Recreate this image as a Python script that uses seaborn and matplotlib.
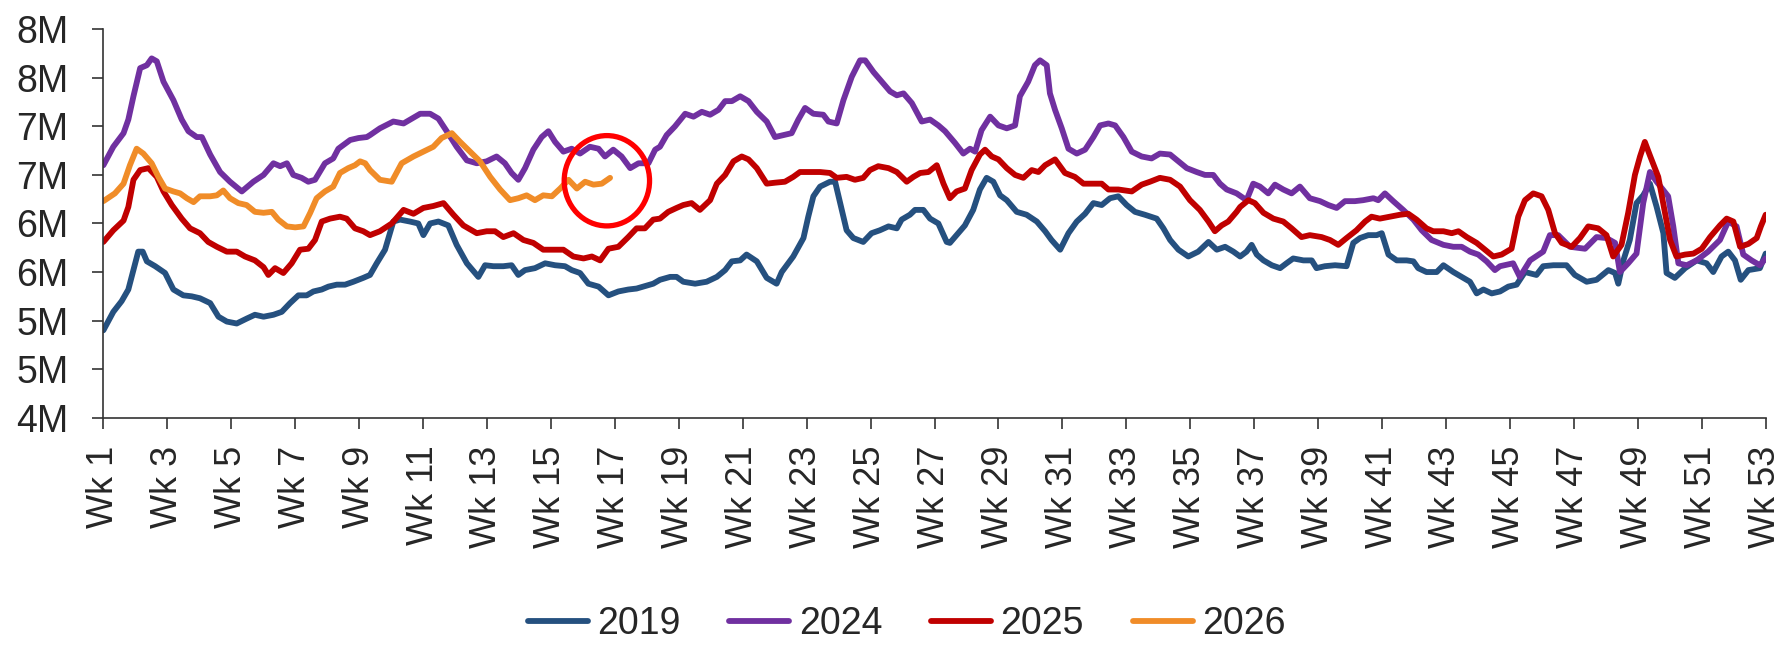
import numpy as np
import pandas as pd
import seaborn as sns
import matplotlib.pyplot as plt
from matplotlib.patches import Ellipse
from matplotlib.ticker import FuncFormatter, MultipleLocator

# weekly position (Wk 1..53) and value in millions
weeks_2019 = [1.0, 1.31, 1.57, 1.78, 1.94, 2.09, 2.23, 2.36, 2.62, 2.93, 3.19, 3.50, 3.76, 4.02, 4.34, 4.60, 4.86, 5.17, 5.48, 5.74,
              6.01, 6.32, 6.58, 6.84, 7.10, 7.36, 7.57, 7.83, 8.04, 8.30, 8.56, 8.82, 9.13,
              9.34, 9.55, 9.81, 10.07, 10.28, 10.59, 10.85, 11.01, 11.22, 11.48, 11.79, 12.05, 12.37, 12.73, 12.94, 13.20, 13.51, 13.77, 13.98, 14.19,
              14.50, 14.82, 15.13, 15.44, 15.65, 15.91, 16.17, 16.49, 16.80, 17.11, 17.42, 17.68, 17.89, 18.20,
              18.41, 18.73, 18.93, 19.14, 19.51, 19.87, 20.19, 20.45, 20.66, 20.92, 21.12, 21.44, 21.75, 22.06, 22.22, 22.58, 22.90, 23.05, 23.21, 23.42,
              23.73, 23.89, 24.10, 24.25, 24.46, 24.77, 25.03, 25.29, 25.56, 25.82, 25.97, 26.23, 26.39, 26.65, 26.86, 27.12, 27.38,
              27.48, 27.69, 27.95, 28.21, 28.42, 28.63, 28.84, 29.05, 29.26, 29.57, 29.88, 30.20, 30.46, 30.66, 30.93, 31.19, 31.45, 31.71, 31.97, 32.23,
              32.49, 32.75, 33.01, 33.27, 33.58, 33.95, 34.16, 34.37, 34.63, 34.94, 35.25, 35.57, 35.83, 36.09, 36.35,
              36.56, 36.76, 36.92, 37.08, 37.29, 37.55, 37.81, 38.01, 38.22, 38.54, 38.80, 38.95, 39.21, 39.53, 39.89, 40.10, 40.31, 40.57, 40.83, 40.99,
              41.20, 41.46, 41.77, 41.98, 42.13, 42.39, 42.71, 42.92, 43.23, 43.49, 43.75, 43.96, 44.17, 44.43, 44.69,
              44.95, 45.21, 45.47, 45.83, 46.04, 46.36, 46.77, 47.03, 47.40, 47.71, 48.08, 48.29, 48.39, 48.55, 48.75, 48.96, 49.17, 49.38, 49.59, 49.80,
              49.90, 50.16, 50.48, 50.84, 51.15, 51.36, 51.62, 51.83, 52.04, 52.22, 52.46, 52.82, 53.0]
vals_2019 = [4.90, 5.09, 5.20, 5.32, 5.52, 5.71, 5.71, 5.61, 5.56, 5.49, 5.32, 5.26, 5.25, 5.23, 5.18, 5.04, 4.99, 4.97, 5.02, 5.06,
             5.04, 5.06, 5.09, 5.18, 5.26, 5.26, 5.30, 5.32, 5.35, 5.37, 5.37, 5.40, 5.44,
             5.47, 5.59, 5.73, 6.02, 6.04, 6.02, 6.00, 5.88, 6.00, 6.02, 5.98, 5.78, 5.59, 5.45, 5.57, 5.56, 5.56, 5.57, 5.47, 5.52,
             5.54, 5.59, 5.57, 5.56, 5.52, 5.49, 5.38, 5.35, 5.26, 5.30, 5.32, 5.33, 5.35, 5.38,
             5.42, 5.45, 5.45, 5.40, 5.38, 5.40, 5.45, 5.52, 5.61, 5.62, 5.68, 5.61, 5.44, 5.38, 5.50, 5.66, 5.85, 6.07, 6.28, 6.38,
             6.43, 6.43, 6.14, 5.93, 5.85, 5.81, 5.90, 5.93, 5.97, 5.95, 6.04, 6.09, 6.14, 6.14, 6.05, 6.00, 5.81,
             5.80, 5.88, 5.98, 6.14, 6.35, 6.47, 6.43, 6.29, 6.24, 6.12, 6.09, 6.02, 5.92, 5.83, 5.73, 5.90, 6.02, 6.10, 6.21, 6.19,
             6.26, 6.28, 6.19, 6.12, 6.09, 6.05, 5.95, 5.83, 5.73, 5.66, 5.71, 5.81, 5.73, 5.76, 5.71,
             5.66, 5.71, 5.78, 5.68, 5.62, 5.57, 5.54, 5.59, 5.64, 5.62, 5.62, 5.54, 5.56, 5.57, 5.56, 5.80, 5.85, 5.88, 5.88, 5.90,
             5.68, 5.62, 5.62, 5.61, 5.54, 5.50, 5.50, 5.57, 5.50, 5.45, 5.40, 5.28, 5.32, 5.28, 5.30,
             5.35, 5.37, 5.50, 5.47, 5.56, 5.57, 5.57, 5.47, 5.40, 5.42, 5.52, 5.49, 5.38, 5.62, 5.83, 6.21, 6.29, 6.41, 6.17, 5.90,
             5.49, 5.44, 5.54, 5.62, 5.59, 5.50, 5.66, 5.71, 5.62, 5.42, 5.52, 5.54, 5.69]

weeks_2024 = [1.0, 1.31, 1.63, 1.78, 1.94, 2.15, 2.36, 2.51, 2.67, 2.88, 3.19, 3.45, 3.66, 3.92, 4.08, 4.34, 4.65, 4.96, 5.33, 5.69,
              6.01, 6.32, 6.53, 6.74, 6.94, 7.20, 7.41, 7.62, 7.93, 8.19, 8.35, 8.72, 8.98, 9.24,
              9.34, 9.65, 10.07, 10.39, 10.65, 10.91, 11.22, 11.48, 11.74, 12.05, 12.37, 12.68, 12.99, 13.30, 13.56, 13.77, 13.98, 14.19, 14.45, 14.71,
              14.92, 15.13, 15.39, 15.65, 15.91, 16.22, 16.49, 16.69, 16.95, 17.21, 17.48, 17.74, 18.05, 18.26,
              18.41, 18.62, 18.88, 19.20, 19.46, 19.72, 19.98, 20.24, 20.45, 20.66, 20.92, 21.18, 21.44, 21.75, 22.01, 22.27, 22.53, 22.74, 22.95, 23.21,
              23.52, 23.68, 23.94, 24.15, 24.41, 24.67, 24.83, 25.09, 25.35, 25.61, 25.82, 26.03, 26.29, 26.60, 26.86, 27.12, 27.33,
              27.64, 27.90, 28.11, 28.27, 28.47, 28.74, 29.00, 29.26, 29.52, 29.67, 29.93, 30.14, 30.30, 30.51, 30.61, 30.77, 30.98, 31.19, 31.45, 31.71,
              31.97, 32.18, 32.44, 32.65, 32.91, 33.17, 33.48, 33.79, 34.05, 34.37, 34.63, 34.89, 35.20, 35.46, 35.72, 35.93, 36.14, 36.45,
              36.76, 36.97, 37.18, 37.44, 37.65, 37.91, 38.17, 38.43, 38.74, 39.06, 39.32, 39.58, 39.84, 40.15, 40.41, 40.73, 40.88, 41.09, 41.35, 41.66,
              41.98, 42.24, 42.55, 42.92, 43.23, 43.49, 43.75, 44.01, 44.27, 44.53,
              44.69, 45.10, 45.31, 45.63, 46.04, 46.25, 46.51, 46.88, 47.35, 47.71, 48.02, 48.29, 48.44, 48.70, 48.96, 49.17, 49.38, 49.59, 49.95, 50.11,
              50.27, 50.53, 50.84, 51.20, 51.57, 51.83, 52.09, 52.30, 52.56, 52.82, 53.0]
vals_2024 = [6.60, 6.79, 6.93, 7.07, 7.31, 7.60, 7.63, 7.70, 7.67, 7.46, 7.27, 7.07, 6.95, 6.89, 6.89, 6.71, 6.53, 6.43, 6.33, 6.43,
             6.50, 6.62, 6.59, 6.62, 6.50, 6.47, 6.43, 6.45, 6.62, 6.67, 6.77, 6.86, 6.88, 6.89,
             6.91, 6.98, 7.05, 7.03, 7.08, 7.13, 7.13, 7.08, 6.95, 6.79, 6.65, 6.62, 6.64, 6.69, 6.62, 6.52, 6.45, 6.57, 6.76, 6.89,
             6.95, 6.84, 6.74, 6.77, 6.72, 6.79, 6.77, 6.69, 6.76, 6.69, 6.57, 6.62, 6.62, 6.76,
             6.79, 6.91, 7.00, 7.13, 7.10, 7.15, 7.12, 7.17, 7.26, 7.26, 7.31, 7.26, 7.15, 7.05, 6.89, 6.91, 6.93, 7.07, 7.19, 7.13,
             7.12, 7.05, 7.03, 7.27, 7.51, 7.68, 7.68, 7.56, 7.46, 7.36, 7.32, 7.34, 7.24, 7.05, 7.07, 7.01, 6.95,
             6.83, 6.72, 6.77, 6.74, 6.96, 7.10, 7.01, 6.98, 7.01, 7.31, 7.46, 7.63, 7.68, 7.63, 7.34, 7.17, 6.98, 6.77, 6.72, 6.76,
             6.89, 7.01, 7.03, 7.01, 6.89, 6.74, 6.69, 6.67, 6.72, 6.71, 6.64, 6.57, 6.53, 6.50, 6.50, 6.41, 6.35, 6.31,
             6.24, 6.41, 6.38, 6.31, 6.40, 6.35, 6.31, 6.38, 6.26, 6.23, 6.19, 6.16, 6.23, 6.23, 6.24, 6.26, 6.24, 6.31, 6.23, 6.14,
             6.04, 5.93, 5.83, 5.78, 5.76, 5.76, 5.71, 5.68, 5.61, 5.52,
             5.56, 5.59, 5.45, 5.62, 5.71, 5.88, 5.88, 5.76, 5.74, 5.86, 5.85, 5.80, 5.50, 5.59, 5.69, 6.21, 6.53, 6.43, 6.28, 5.97,
             5.59, 5.57, 5.62, 5.71, 5.83, 6.02, 5.97, 5.68, 5.62, 5.57, 5.64]

weeks_2025 = [1.0, 1.31, 1.63, 1.78, 1.94, 2.15, 2.41, 2.67, 2.88, 3.14, 3.45, 3.71, 4.02, 4.28, 4.55, 4.86, 5.17, 5.43, 5.74, 6.01,
              6.16, 6.37, 6.63, 6.89, 7.15, 7.41, 7.62, 7.83, 8.09, 8.40, 8.61, 8.87, 9.13,
              9.34, 9.65, 10.02, 10.39, 10.70, 11.01, 11.32, 11.64, 11.95, 12.26, 12.68, 12.99, 13.25, 13.51, 13.83, 14.14, 14.45, 14.76, 15.08, 15.39,
              15.70, 16.02, 16.28, 16.54, 16.80, 17.11, 17.42, 17.68, 17.94, 18.20,
              18.41, 18.67, 18.93, 19.14, 19.40, 19.66, 19.98, 20.19, 20.45, 20.71, 20.97, 21.18, 21.44, 21.75, 22.01, 22.32, 22.58, 22.79, 23.11, 23.42,
              23.73, 23.94, 24.25, 24.51, 24.77, 24.98, 25.24, 25.56, 25.82, 26.13, 26.34, 26.55, 26.81, 27.07, 27.28,
              27.48, 27.69, 27.95, 28.16, 28.42, 28.58, 28.79, 29.00, 29.26, 29.52, 29.78, 30.04, 30.25, 30.46, 30.77, 31.08, 31.39, 31.66, 31.97, 32.23,
              32.44, 32.75, 33.17, 33.48, 33.74, 34.05, 34.37, 34.68, 34.99, 35.30, 35.57, 35.77, 35.98, 36.19, 36.45,
              36.56, 36.82, 37.02, 37.29, 37.60, 37.91, 38.17, 38.48, 38.74, 39.11, 39.37, 39.63, 39.89, 40.20, 40.47, 40.67, 40.93, 41.25, 41.56, 41.82,
              42.08, 42.39, 42.60, 42.92, 43.18, 43.39, 43.65, 43.96, 44.22, 44.48, 44.74,
              45.05, 45.26, 45.47, 45.73, 45.99, 46.20, 46.41, 46.62, 46.93, 47.19, 47.45, 47.76, 48.02, 48.23, 48.49, 48.70, 48.91, 49.07, 49.22, 49.38,
              49.64, 49.85, 50.01, 50.21, 50.48, 50.74, 51.00, 51.26, 51.57, 51.78, 51.99, 52.20, 52.46, 52.72, 52.85, 53.0]
vals_2025 = [5.81, 5.93, 6.03, 6.17, 6.45, 6.55, 6.57, 6.48, 6.33, 6.19, 6.05, 5.95, 5.90, 5.81, 5.76, 5.71, 5.71, 5.66, 5.62, 5.55,
             5.47, 5.54, 5.49, 5.59, 5.73, 5.74, 5.83, 6.02, 6.05, 6.07, 6.05, 5.95, 5.92,
             5.88, 5.92, 6.00, 6.14, 6.10, 6.16, 6.18, 6.21, 6.09, 5.98, 5.90, 5.92, 5.92, 5.86, 5.90, 5.83, 5.80, 5.73, 5.73, 5.73,
             5.66, 5.64, 5.66, 5.62, 5.74, 5.76, 5.86, 5.95, 5.95, 6.04,
             6.05, 6.12, 6.16, 6.19, 6.21, 6.14, 6.24, 6.41, 6.50, 6.64, 6.69, 6.66, 6.57, 6.41, 6.42, 6.43, 6.48, 6.53, 6.53, 6.53,
             6.52, 6.47, 6.48, 6.45, 6.47, 6.55, 6.59, 6.57, 6.53, 6.43, 6.48, 6.52, 6.53, 6.60, 6.41,
             6.26, 6.33, 6.36, 6.55, 6.71, 6.76, 6.69, 6.66, 6.57, 6.50, 6.47, 6.55, 6.53, 6.60, 6.66, 6.52, 6.48, 6.41, 6.41, 6.41,
             6.35, 6.35, 6.33, 6.40, 6.43, 6.47, 6.45, 6.38, 6.24, 6.14, 6.02, 5.92, 5.98, 6.02, 6.12,
             6.17, 6.24, 6.21, 6.11, 6.05, 6.02, 5.95, 5.86, 5.88, 5.86, 5.83, 5.78, 5.85, 5.93, 6.02, 6.07, 6.05, 6.07, 6.09, 6.10,
             6.04, 5.95, 5.92, 5.92, 5.90, 5.92, 5.86, 5.80, 5.73, 5.66, 5.68,
             5.74, 6.07, 6.24, 6.31, 6.28, 6.14, 5.90, 5.80, 5.76, 5.85, 5.97, 5.95, 5.88, 5.66, 5.78, 6.11, 6.50, 6.69, 6.84, 6.70,
             6.48, 6.11, 5.83, 5.66, 5.68, 5.69, 5.74, 5.86, 5.98, 6.05, 6.02, 5.76, 5.79, 5.85, 5.97, 6.09]

weeks_2026 = [1.0, 1.36, 1.63, 1.83, 2.04, 2.25, 2.51, 2.72, 2.93, 3.19, 3.40, 3.61, 3.82, 4.02, 4.34, 4.55, 4.75, 4.96, 5.22, 5.48,
              5.74, 6.01, 6.27, 6.47, 6.74, 7.00, 7.26, 7.47, 7.67, 7.93, 8.19, 8.40, 8.66, 8.87, 9.03, 9.19,
              9.34, 9.65, 10.02, 10.33, 10.70, 11.01, 11.32, 11.58, 11.90, 12.16, 12.47, 12.78, 13.10, 13.41, 13.72, 13.98, 14.24, 14.50, 14.76, 15.03,
              15.29, 15.55, 15.81, 16.07, 16.33, 16.59, 16.85]
vals_2026 = [6.23, 6.31, 6.41, 6.60, 6.77, 6.72, 6.62, 6.48, 6.36, 6.33, 6.31, 6.26, 6.22, 6.28, 6.28, 6.29, 6.34, 6.26, 6.21, 6.19,
             6.12, 6.11, 6.12, 6.04, 5.97, 5.96, 5.97, 6.11, 6.26, 6.33, 6.38, 6.52, 6.57, 6.60, 6.64, 6.62,
             6.55, 6.45, 6.43, 6.62, 6.69, 6.74, 6.79, 6.88, 6.93, 6.84, 6.74, 6.64, 6.48, 6.35, 6.24, 6.26, 6.29, 6.24, 6.29, 6.28,
             6.36, 6.45, 6.36, 6.43, 6.40, 6.41, 6.47]

years = ['2019', '2024', '2025', '2026']
colors = ['#25507F', '#7030A0', '#C00000', '#F08C28']
week_ticks = list(range(1, 54, 2))
week_labels = [f'Wk {w}' for w in week_ticks]

frames = []
for yr, wk, v in zip(years, [weeks_2019, weeks_2024, weeks_2025, weeks_2026],
                     [vals_2019, vals_2024, vals_2025, vals_2026]):
    frames.append(pd.DataFrame({'week': wk, 'value': v, 'year': yr}))
df = pd.concat(frames, ignore_index=True)

sns.set_style('white')
plt.rcParams['font.family'] = ['Liberation Sans', 'DejaVu Sans']

fig = plt.figure(figsize=(17.92, 6.49), dpi=100)
ax = fig.add_axes([0.0577, 0.3564, 0.9276, 0.5985])

for yr, c in zip(years, colors):
    sub = df[df['year'] == yr]
    sns.lineplot(data=sub, x='week', y='value', ax=ax, color=c, lw=4.2,
                 sort=False, estimator=None, label=yr,
                 solid_capstyle='round', solid_joinstyle='round')

# red highlight circle around the latest 2026 data
ax.add_patch(Ellipse((16.75, 6.44), width=2.67, height=0.93, fill=False,
                     edgecolor='#FF0000', lw=3.8, zorder=5))

ax.set_xlim(1, 53)
ax.set_ylim(4, 8)
ax.yaxis.set_major_locator(MultipleLocator(0.5))
ax.yaxis.set_major_formatter(FuncFormatter(lambda v, p: f'{int(v + 0.5)}M'))
ax.set_xticks(week_ticks)
ax.set_xticklabels(week_labels, rotation=90)
ax.set_xlabel('')
ax.set_ylabel('')

for side in ['top', 'right']:
    ax.spines[side].set_visible(False)
for side in ['left', 'bottom']:
    ax.spines[side].set_color('#333333')
    ax.spines[side].set_linewidth(1.2)

ax.tick_params(axis='x', direction='out', length=8, width=1.2, color='#333333',
               labelsize=26, pad=12, bottom=True)
ax.tick_params(axis='y', direction='out', length=8, width=1.2, color='#333333',
               labelsize=27, pad=17, left=True)

handles, labels = ax.get_legend_handles_labels()
if ax.get_legend() is not None:
    ax.get_legend().remove()
fig.legend(handles, labels, loc='center', bbox_to_anchor=(0.506, 0.0385), ncol=4,
           frameon=False, fontsize=27, handlelength=1.6, handletextpad=0.25,
           columnspacing=1.3)

fig.savefig('out.png', dpi=100)
